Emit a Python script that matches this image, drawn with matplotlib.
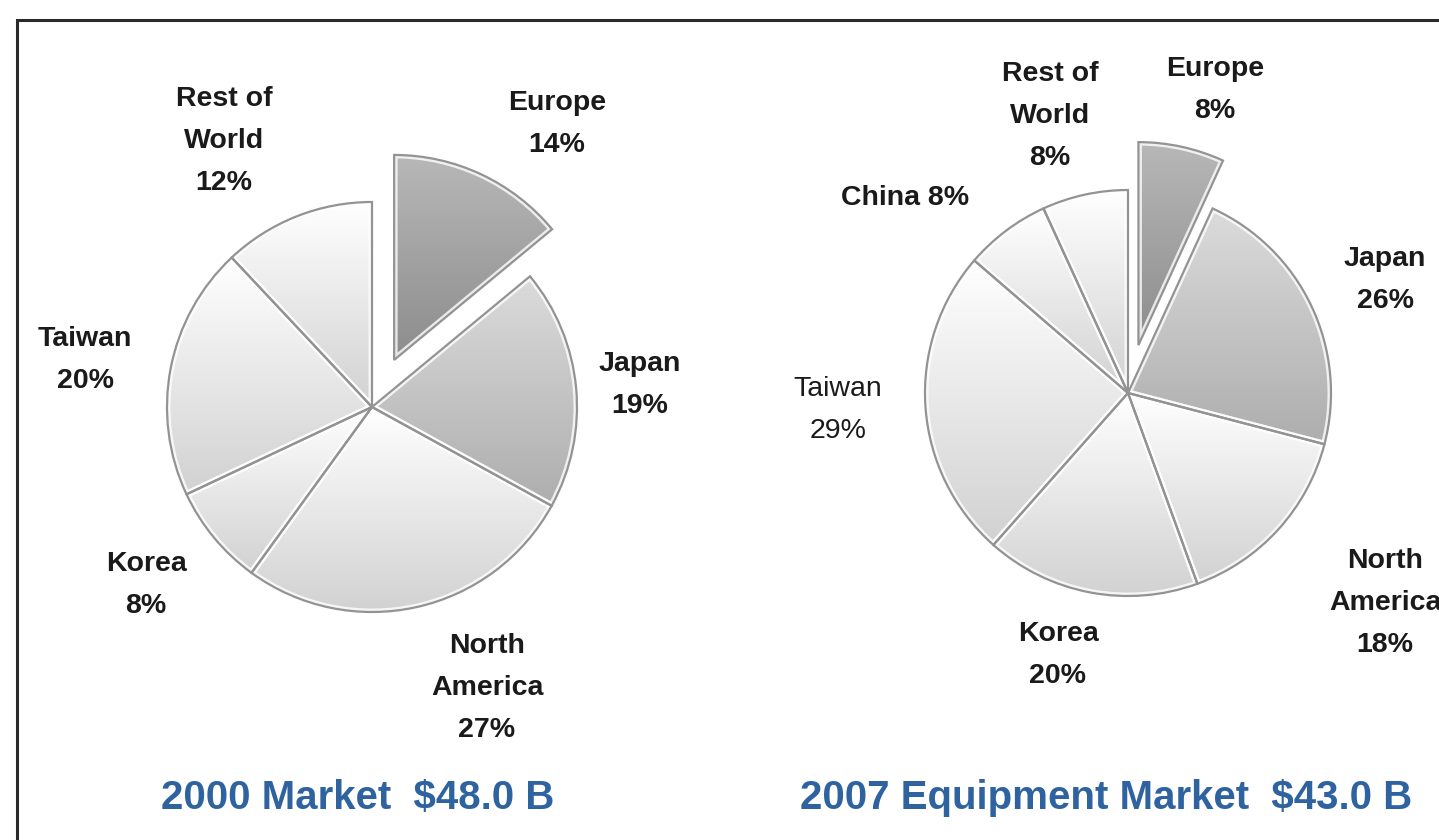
import copy
import numpy as np
import matplotlib
matplotlib.use("Agg")
import matplotlib.pyplot as plt
from matplotlib.patches import Rectangle

plt.rcParams['font.family'] = ['Liberation Sans', 'DejaVu Sans']

# 2000 market, clockwise from 12 o'clock
regions_2000 = ["Europe", "Japan", "North\nAmerica", "Korea", "Taiwan", "Rest of\nWorld"]
share_2000 = [14, 19, 27, 8, 20, 12]
label_pos_2000 = [(557, 124), (640, 385), (487, 688), (146, 585), (85, 360), (224, 141)]

# 2007 equipment market, clockwise from 12 o'clock
regions_2007 = ["Europe", "Japan", "North\nAmerica", "Korea", "Taiwan", "China", "Rest of\nWorld"]
share_2007 = [8, 26, 18, 20, 29, 8, 8]
label_pos_2007 = [(1215, 90), (1385, 280), (1385, 603), (1058, 655), (838, 410), (905, 198), (1050, 116)]
label_sep_2007 = ["\n", "\n", "\n", "\n", "\n", " ", "\n"]

titles = ["2000 Market  $48.0 B", "2007 Equipment Market  $43.0 B"]
title_pos = [(358, 798), (1106, 798)]

W, H = 1439, 840

# top / bottom grey of each slice's shading
shade_dark = ((0.72, 0.72, 0.72), (0.55, 0.55, 0.55))
shade_mid = ((0.86, 0.86, 0.86), (0.68, 0.68, 0.68))
shade_light = ((1.0, 1.0, 1.0), (0.82, 0.82, 0.82))


def shaded_pie(ax, values, center, radius, shades, explode):
    # explode is given in the same units as radius (pixels here)
    wedges, _ = ax.pie(values, center=center, radius=radius, startangle=90,
                       counterclock=False, explode=explode, frame=True,
                       wedgeprops=dict(edgecolor="#939393", linewidth=1.6))
    for w, (top, bot) in zip(wedges, shades):
        verts = w.get_path().vertices
        x0, y0 = verts.min(axis=0)
        x1, y1 = verts.max(axis=0)
        t = np.linspace(0, 1, 256)[:, None, None]
        grad = np.array(top)[None, None, :] * (1 - t) + np.array(bot)[None, None, :] * t
        im = ax.imshow(grad, extent=[x0, x1, y0, y1], origin="upper",
                       interpolation="bicubic", aspect="auto", zorder=1)
        im.set_clip_path(w)
        # soft white rim just inside the outline
        rim = copy.copy(w)
        rim.set_facecolor("none")
        rim.set_edgecolor((1, 1, 1, 0.8))
        rim.set_linewidth(5)
        rim.set_zorder(1.5)
        ax.add_patch(rim)
        rim.set_clip_path(w)
        w.set_facecolor("none")
        w.set_zorder(2)
    return wedges


fig = plt.figure(figsize=(W / 100, H / 100), dpi=100)
ax = fig.add_axes([0, 0, 1, 1])

shades_2000 = [shade_dark, shade_mid] + [shade_light] * 4
explode_2000 = [52] + [0] * 5
shaded_pie(ax, share_2000, (372, H - 407), 205, shades_2000, explode_2000)

shades_2007 = [shade_dark, shade_mid] + [shade_light] * 5
explode_2007 = [49] + [0] * 6
shaded_pie(ax, share_2007, (1128, H - 393), 203, shades_2007, explode_2007)

for name, val, (px, py) in zip(regions_2000, share_2000, label_pos_2000):
    ax.text(px, H - py, f"{name}\n{val}%", ha="center", va="center",
            fontsize=20.5, fontweight="bold", color="#1a1a1a", linespacing=1.8)

for name, val, sep, (px, py) in zip(regions_2007, share_2007, label_sep_2007, label_pos_2007):
    weight = "normal" if name == "Taiwan" else "bold"
    ax.text(px, H - py, f"{name}{sep}{val}%", ha="center", va="center",
            fontsize=20.5, fontweight=weight, color="#1a1a1a", linespacing=1.8)

for txt, (px, py) in zip(titles, title_pos):
    ax.text(px, H - py, txt, ha="center", va="center", fontsize=29,
            fontweight="bold", color="#2e63a0")

# outer frame, runs off the right and bottom edges
ax.add_patch(Rectangle((17, -20), W + 20, H, fill=False,
                       edgecolor="#2a2a2a", linewidth=2.2, zorder=5))

ax.set_xlim(0, W)
ax.set_ylim(0, H)
ax.set_aspect("equal")
ax.axis("off")

fig.savefig("out.png", dpi=100)
